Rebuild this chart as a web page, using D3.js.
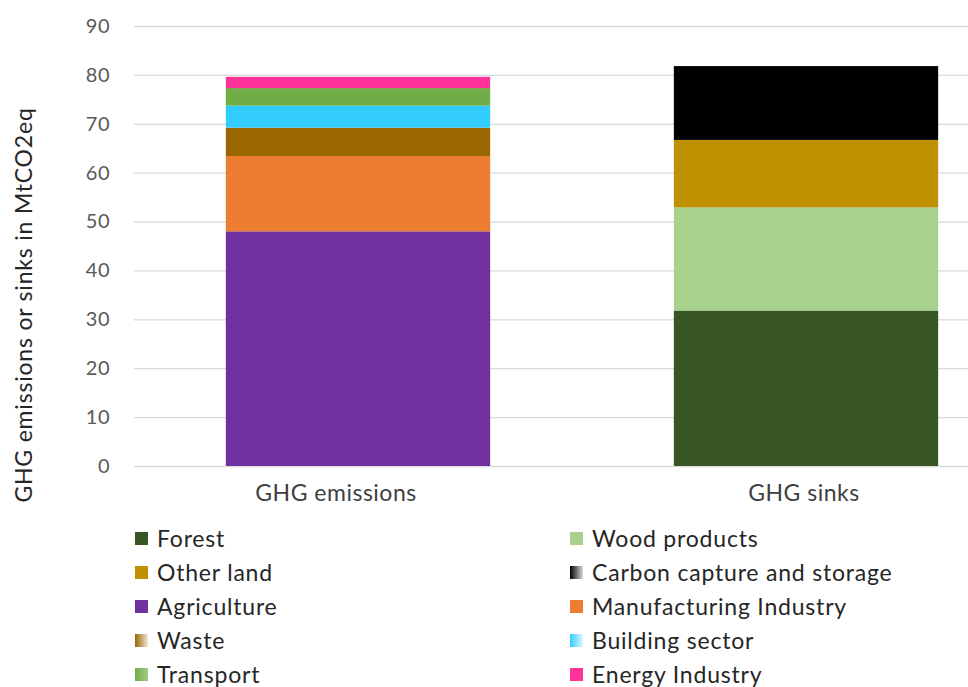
<!DOCTYPE html>
<html>
<head>
<meta charset="utf-8">
<script src="https://cdn.jsdelivr.net/npm/d3@7"></script>
<style>
  body { margin: 0; background: #fff; }
  svg { display: block; font-family: Lato, "Open Sans", sans-serif; }
</style>
</head>
<body>
<svg id="canvas" width="968" height="687"></svg>
<script>
// Chart data
const groups = ["GHG emissions", "GHG sinks"];
const emissionSeries = ["Agriculture", "Manufacturing Industry", "Waste", "Building sector", "Transport", "Energy Industry"];
const emissionValues = [48.0, 15.4, 5.8, 4.5, 3.6, 2.3];
const sinkSeries = ["Forest", "Wood products", "Other land", "Carbon capture and storage"];
const sinkValues = [31.8, 21.1, 13.8, 15.1];
const yTicks = [0, 10, 20, 30, 40, 50, 60, 70, 80, 90];
const legendOrder = [
  "Forest", "Wood products", "Other land", "Carbon capture and storage",
  "Agriculture", "Manufacturing Industry", "Waste", "Building sector",
  "Transport", "Energy Industry"
];

const colors = {
  "Forest": "#375623",
  "Wood products": "#A9D18E",
  "Other land": "#BF9000",
  "Carbon capture and storage": "#000000",
  "Agriculture": "#7030A0",
  "Manufacturing Industry": "#ED7D31",
  "Waste": "#996600",
  "Building sector": "#33CCFF",
  "Transport": "#70AD47",
  "Energy Industry": "#FF3399"
};
// legend icons that fade out to white
const gradientItems = ["Carbon capture and storage", "Waste", "Building sector", "Transport"];

const svg = d3.select("#canvas");
const [mt, ml, bottom] = [26, 134, 466];

const x = d3.scaleBand()
  .domain(groups)
  .range([ml, ml + 896])
  .paddingInner(0.41)
  .paddingOuter(0.205);

const y = d3.scaleLinear().domain([0, 90]).range([bottom, mt]);

// Gridlines
svg.append("g")
  .selectAll("line")
  .data(yTicks)
  .enter()
  .append("line")
  .attr("x1", ml)
  .attr("x2", ml + 896)
  .attr("y1", (d) => y(d) + 0.5)
  .attr("y2", (d) => y(d) + 0.5)
  .attr("stroke", "#d9d9d9")
  .attr("stroke-width", 1.3);

// Y axis labels
const yAxis = svg.append("g")
  .attr("transform", `translate(${ml - 24},0)`)
  .call(d3.axisLeft(y).tickValues(yTicks).tickSize(0).tickPadding(0));
yAxis.select(".domain").remove();
yAxis.selectAll("text")
  .attr("fill", "#595959")
  .style("font-size", "20px")
  .style("letter-spacing", "0.5px")
  .style("font-family", "Lato, 'Open Sans', sans-serif");

// Stacked bars
const stacks = [
  { group: groups[0], names: emissionSeries, values: emissionValues },
  { group: groups[1], names: sinkSeries, values: sinkValues }
];

stacks.forEach((s) => {
  let acc = 0;
  const segs = s.names.map((n, i) => {
    const seg = { name: n, y0: acc, y1: acc + s.values[i] };
    acc += s.values[i];
    return seg;
  });
  svg.append("g")
    .selectAll("rect")
    .data(segs)
    .enter()
    .append("rect")
    .attr("x", x(s.group))
    .attr("width", x.bandwidth())
    .attr("y", (d) => y(d.y1))
    .attr("height", (d) => y(d.y0) - y(d.y1))
    .attr("fill", (d) => colors[d.name]);
});

// Category labels (the emissions label sits a bit left of its bar in the original)
svg.append("g")
  .selectAll("text")
  .data(groups)
  .enter()
  .append("text")
  .attr("x", (d) => x(d) + x.bandwidth() / 2)
  .attr("dx", (d, i) => (i === 0 ? -22 : -2))
  .attr("y", 501)
  .attr("text-anchor", "middle")
  .attr("fill", "#404040")
  .style("font-size", "23px")
  .style("letter-spacing", "0.5px")
  .text((d) => d);

// Y axis title
svg.append("text")
  .attr("transform", "translate(32,305) rotate(-90)")
  .attr("text-anchor", "middle")
  .attr("fill", "#262626")
  .style("font-size", "23px")
  .style("letter-spacing", "0.8px")
  .text("GHG emissions or sinks in MtCO2eq");

// Legend gradients
const defs = svg.append("defs");
gradientItems.forEach((name, i) => {
  const g = defs.append("linearGradient")
    .attr("id", "grad" + i)
    .attr("x1", "0%").attr("x2", "100%");
  g.append("stop").attr("offset", "0%").attr("stop-color", colors[name]);
  g.append("stop").attr("offset", "100%")
    .attr("stop-color", d3.interpolateRgb(colors[name], "#fff")(name === "Transport" ? 0.35 : 0.85));
});

// Legend
const legend = svg.append("g")
  .selectAll("g")
  .data(legendOrder)
  .enter()
  .append("g")
  .attr("transform", (d, i) => {
    const lx = i % 2 === 0 ? 135 : 570;
    const ly = 532 + Math.floor(i / 2) * 34;
    return `translate(${lx},${ly})`;
  });

legend.append("rect")
  .attr("width", 13)
  .attr("height", 13)
  .attr("fill", (d) => {
    const gi = gradientItems.indexOf(d);
    return gi >= 0 ? `url(#grad${gi})` : colors[d];
  });

legend.append("text")
  .attr("x", 22)
  .attr("y", 15)
  .attr("fill", "#262626")
  .style("font-size", "23px")
  .style("letter-spacing", "0.8px")
  .text((d) => d);
</script>
</body>
</html>
